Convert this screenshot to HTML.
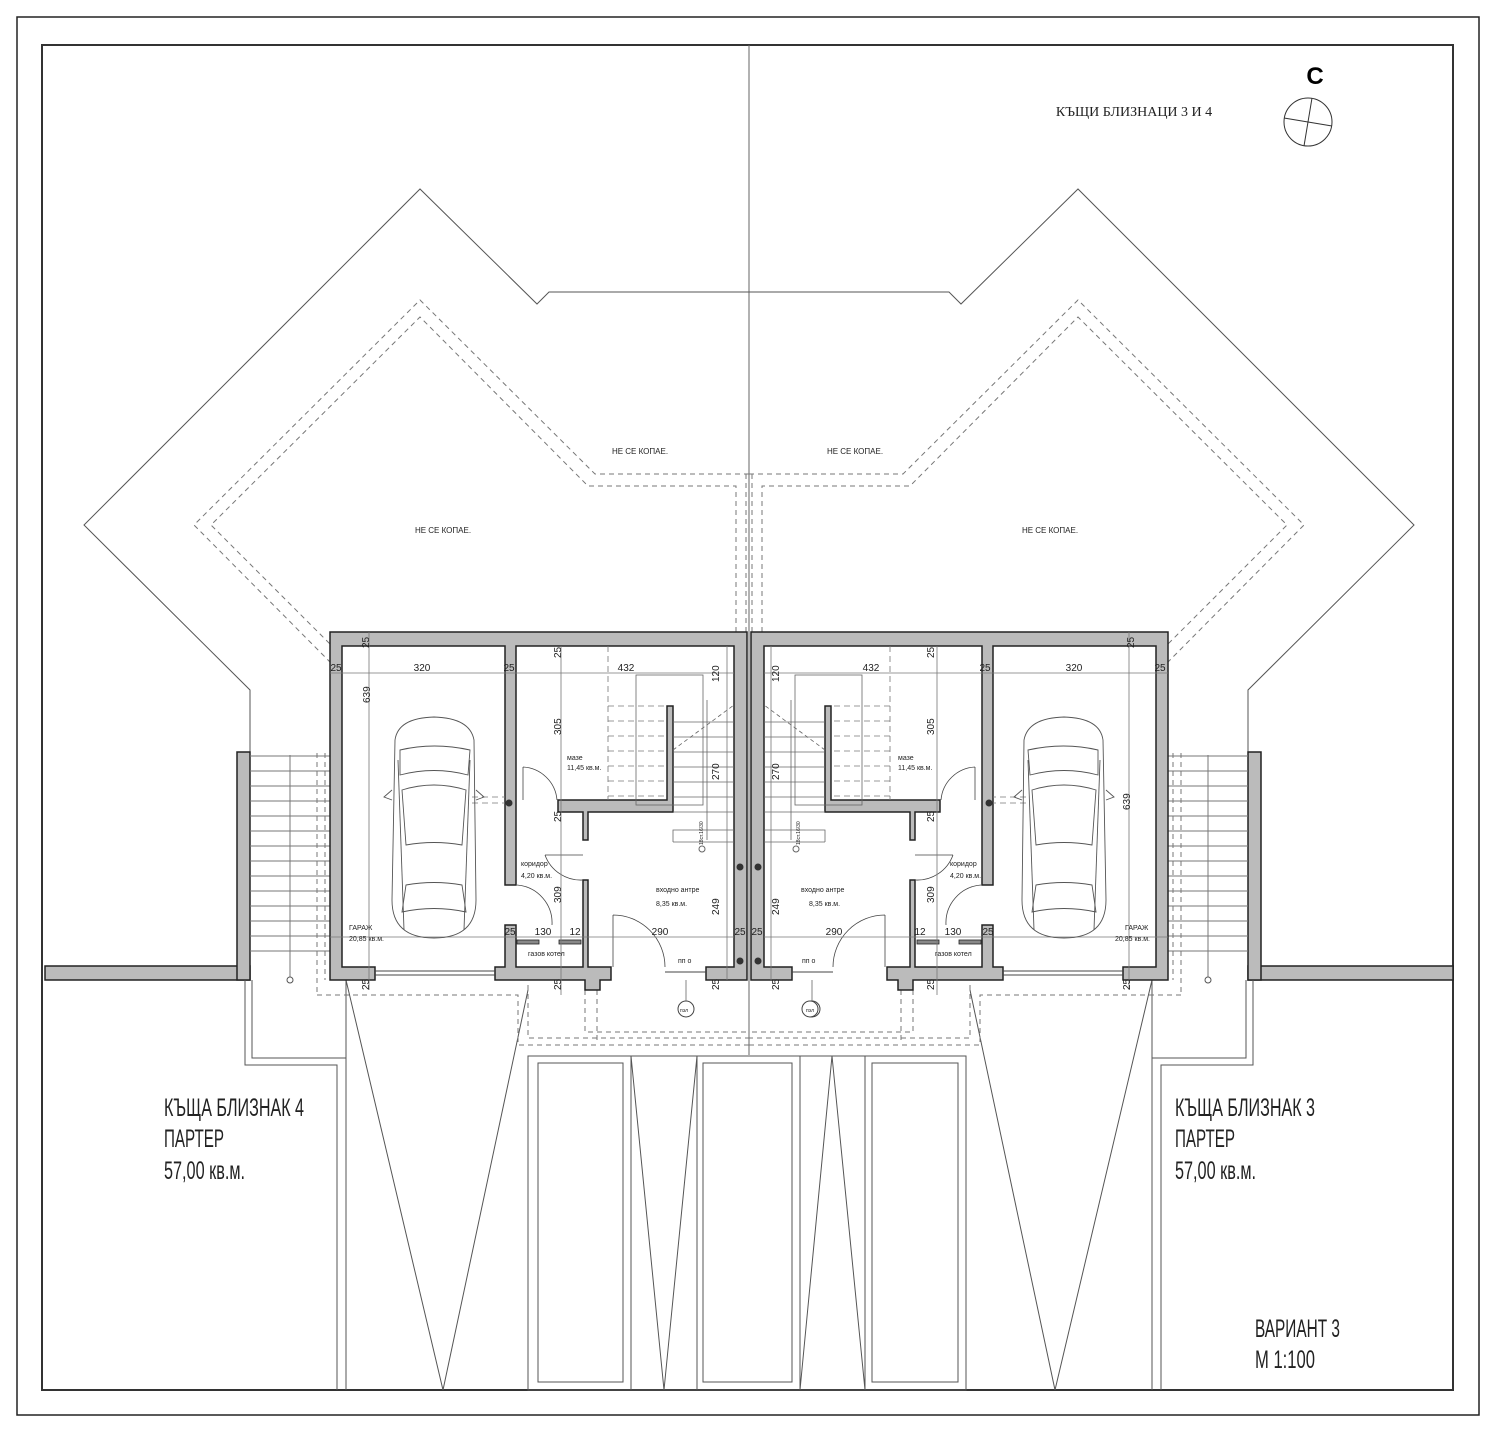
<!DOCTYPE html>
<html><head><meta charset="utf-8"><style>
html,body{margin:0;padding:0;background:#fff;}
svg{display:block;}
text{font-family:"Liberation Sans",sans-serif;fill:#222;}
</style></head><body>
<svg width="1502" height="1432" viewBox="0 0 1502 1432" xmlns="http://www.w3.org/2000/svg">
<rect x="0" y="0" width="1502" height="1432" fill="#fff"/>
<rect x="17" y="17" width="1462" height="1398" fill="none" stroke="#222" stroke-width="1.5"/>
<rect x="42" y="45" width="1411" height="1345" fill="none" stroke="#333" stroke-width="2"/>
<line x1="749" y1="45" x2="749" y2="1055" stroke="#666" stroke-width="1"/>

<defs>
<g id="half">
  <polyline points="749,292 549,292 537,304 420,189 84,525 250,690 250,752" fill="none" stroke="#555" stroke-width="1"/>
  <polyline points="749,474 595,474 420,300 194,525 330,662" fill="none" stroke="#777" stroke-width="1" stroke-dasharray="5,4"/>
  <polyline points="736,632 736,486 588,486 420,317 211,525 330,644" fill="none" stroke="#777" stroke-width="1" stroke-dasharray="5,4"/>
  <line x1="746" y1="474" x2="746" y2="632" stroke="#777" stroke-dasharray="5,4"/>
  <rect x="45" y="966" width="205" height="14" fill="#bbb" stroke="#222" stroke-width="1.5"/>
  <rect x="237" y="752" width="13" height="228" fill="#bbb" stroke="#222" stroke-width="1.5"/>
  <g stroke="#777" stroke-width="1">
    <line x1="250" y1="756" x2="330" y2="756"/><line x1="250" y1="771" x2="330" y2="771"/><line x1="250" y1="786" x2="330" y2="786"/>
    <line x1="250" y1="801" x2="330" y2="801"/><line x1="250" y1="816" x2="330" y2="816"/><line x1="250" y1="831" x2="330" y2="831"/>
    <line x1="250" y1="846" x2="330" y2="846"/><line x1="250" y1="861" x2="330" y2="861"/><line x1="250" y1="876" x2="330" y2="876"/>
    <line x1="250" y1="891" x2="330" y2="891"/><line x1="250" y1="906" x2="330" y2="906"/><line x1="250" y1="921" x2="330" y2="921"/>
    <line x1="250" y1="936" x2="330" y2="936"/><line x1="250" y1="951" x2="330" y2="951"/>
    <line x1="290" y1="755" x2="290" y2="978"/>
  </g>
  <circle cx="290" cy="980" r="3" fill="#fff" stroke="#555"/>
  <line x1="317" y1="753" x2="317" y2="995" stroke="#777" stroke-dasharray="5,4"/>
  <line x1="325" y1="753" x2="325" y2="980" stroke="#777" stroke-dasharray="5,4"/>
  <polyline points="245,980 245,1065 337,1065 337,1390" fill="none" stroke="#555"/>
  <polyline points="252,980 252,1058 346,1058" fill="none" stroke="#555"/>
  <line x1="346" y1="980" x2="346" y2="1390" stroke="#555"/>
  <polyline points="346,980 443,1390 528,990" fill="none" stroke="#555"/>
  <polyline points="317,995 518,995 518,1045 749,1045" fill="none" stroke="#777" stroke-dasharray="5,4"/>
  <polyline points="528,985 528,1038 749,1038" fill="none" stroke="#777" stroke-dasharray="5,4"/>
  <polyline points="585,990 585,1032 595,1032" fill="none" stroke="#777" stroke-dasharray="5,4"/>
  <polyline points="597,990 597,1040" fill="none" stroke="#777" stroke-dasharray="5,4"/>
  <line x1="597" y1="1032" x2="749" y2="1032" stroke="#777" stroke-dasharray="5,4"/>

  <g fill="#bbb" stroke="#222" stroke-width="1.5">
    <path d="M330,632 H747 V980 H706 V967 H734 V646 H516 V885 H505 V646 H342 V967 H375 V980 H330 Z"/>
    <path d="M495,967 H505 V925 H516 V967 H583 V880 H588 V967 H611 V980 H600 V990 H585 V980 H495 Z"/>
    <path d="M558,800 H667 V706 H673 V812 H588 V840 H583 V812 H558 Z"/>
  </g>
  <rect x="517" y="940" width="22" height="4" fill="#888" stroke="#222" stroke-width="0.8"/>
  <rect x="559" y="940" width="22" height="4" fill="#888" stroke="#222" stroke-width="0.8"/>
  <line x1="375" y1="971" x2="495" y2="971" stroke="#444"/><line x1="375" y1="975" x2="495" y2="975" stroke="#444"/>
  <line x1="665" y1="972" x2="706" y2="972" stroke="#444"/>
  <circle cx="509" cy="803" r="3.5" fill="#333"/>
  <circle cx="740" cy="867" r="3.5" fill="#333"/><circle cx="740" cy="961" r="3.5" fill="#333"/>
  <g fill="none" stroke="#444" stroke-width="0.8">
    <path d="M523,767 L523,800 M523,767 A36,36 0 0 1 557,800"/>
    <path d="M545,855 A38,38 0 0 0 583,880 M545,855 L583,855"/>
    <path d="M517,885 A38,38 0 0 1 552,925"/>
    <path d="M613,915 L613,967 M613,915 A52,52 0 0 1 665,967"/>
  </g>
  <g stroke="#666" fill="none" stroke-width="0.8">
    <rect x="636" y="675" width="67" height="130"/>
    <polyline points="673,842 673,830 734,830"/>
    <line x1="673" y1="842" x2="734" y2="842"/>
    <line x1="673" y1="722" x2="734" y2="722"/><line x1="673" y1="737" x2="734" y2="737"/><line x1="673" y1="752" x2="734" y2="752"/>
    <line x1="673" y1="767" x2="734" y2="767"/><line x1="673" y1="782" x2="734" y2="782"/><line x1="673" y1="797" x2="734" y2="797"/><line x1="673" y1="812" x2="734" y2="812"/>
    <line x1="707" y1="700" x2="707" y2="840"/>
    <line x1="673" y1="750" x2="734" y2="705" stroke-dasharray="4,3"/>
  </g>
  <g stroke="#777" fill="none" stroke-dasharray="6,4" stroke-width="0.8">
    <line x1="608" y1="646" x2="608" y2="800"/>
    <line x1="608" y1="706" x2="667" y2="706"/><line x1="608" y1="721" x2="667" y2="721"/><line x1="608" y1="736" x2="667" y2="736"/>
    <line x1="608" y1="751" x2="667" y2="751"/><line x1="608" y1="766" x2="667" y2="766"/><line x1="608" y1="781" x2="667" y2="781"/><line x1="608" y1="796" x2="667" y2="796"/>
    <line x1="472" y1="797" x2="505" y2="797"/><line x1="472" y1="803" x2="505" y2="803"/>
  </g>
  <g stroke="#777" stroke-width="0.8">
    <line x1="330" y1="673" x2="734" y2="673"/>
    <line x1="330" y1="937" x2="734" y2="937"/>
    <line x1="369" y1="632" x2="369" y2="990"/>
    <line x1="561" y1="646" x2="561" y2="995"/>
    <line x1="727" y1="646" x2="727" y2="980"/>
  </g>
  <circle cx="702" cy="849" r="3" fill="#fff" stroke="#666"/>
  <circle cx="686" cy="1009" r="8" fill="#fff" stroke="#444"/>
  <line x1="686" y1="980" x2="686" y2="1001" stroke="#666" stroke-width="0.8"/>
  <g fill="none" stroke="#555" stroke-width="0.9">
    <path d="M395,740 Q398,718 434,717 Q470,718 474,740 L476,900 Q476,938 434,938 Q392,938 392,900 Z"/>
    <path d="M400,750 Q434,742 470,750 L468,775 Q434,766 400,775 Z"/>
    <path d="M402,790 Q434,780 466,790 L462,845 Q434,840 406,845 Z"/>
    <path d="M406,885 Q434,880 462,885 L466,912 Q434,905 402,912 Z"/>
    <path d="M392,790 L384,797 L392,800"/><path d="M476,790 L484,797 L476,800"/>
    <line x1="398" y1="760" x2="404" y2="930"/><line x1="470" y1="760" x2="464" y2="930"/>
  </g>
</g>
</defs>

<use href="#half"/>
<g transform="translate(1498,0) scale(-1,1)"><use href="#half"/></g>

<g fill="none" stroke="#555" stroke-width="1">
  <rect x="528" y="1056" width="438" height="334"/>
  <line x1="631" y1="1056" x2="631" y2="1390"/><line x1="697" y1="1056" x2="697" y2="1390"/>
  <line x1="800" y1="1056" x2="800" y2="1390"/><line x1="865" y1="1056" x2="865" y2="1390"/>
  <rect x="538" y="1063" width="85" height="319"/>
  <rect x="703" y="1063" width="89" height="319"/>
  <rect x="872" y="1063" width="86" height="319"/>
  <polyline points="631,1056 664,1390 697,1056"/>
  <polyline points="800,1390 832,1056 865,1390"/>
</g>

<circle cx="1308" cy="122" r="24" fill="none" stroke="#333" stroke-width="1"/>
<line x1="1312" y1="98" x2="1304" y2="146" stroke="#333"/>
<line x1="1284" y1="118" x2="1332" y2="126" stroke="#333"/>
<text x="1315" y="84" font-size="24" font-weight="bold" text-anchor="middle" style="fill:#000">С</text>
<text x="1134" y="116" font-size="14" text-anchor="middle" style="font-family:'Liberation Serif',serif">КЪЩИ БЛИЗНАЦИ 3 И 4</text>

<g font-size="8" text-anchor="middle">
  <text x="640" y="454">НЕ СЕ КОПАЕ.</text><text x="855" y="454">НЕ СЕ КОПАЕ.</text>
  <text x="443" y="533">НЕ СЕ КОПАЕ.</text><text x="1050" y="533">НЕ СЕ КОПАЕ.</text>
</g>
<g font-size="10" text-anchor="middle" style="fill:#333">
  <text x="422" y="671">320</text><text x="626" y="671">432</text><text x="871" y="671">432</text><text x="1074" y="671">320</text>
  <text x="336" y="671">25</text><text x="509" y="671">25</text><text x="985" y="671">25</text><text x="1160" y="671">25</text>
  <text x="543" y="935">130</text><text x="575" y="935">12</text><text x="660" y="935">290</text>
  <text x="834" y="935">290</text><text x="920" y="935">12</text><text x="953" y="935">130</text>
  <text x="740" y="935">25</text><text x="757" y="935">25</text><text x="510" y="935">25</text><text x="988" y="935">25</text>
</g>
<g font-size="10" style="fill:#333">
  <text transform="translate(370,703) rotate(-90)">639</text>
  <text transform="translate(1130,810) rotate(-90)">639</text>
  <text transform="translate(561,735) rotate(-90)">305</text>
  <text transform="translate(934,735) rotate(-90)">305</text>
  <text transform="translate(561,903) rotate(-90)">309</text>
  <text transform="translate(934,903) rotate(-90)">309</text>
  <text transform="translate(719,915) rotate(-90)">249</text>
  <text transform="translate(779,915) rotate(-90)">249</text>
  <text transform="translate(719,780) rotate(-90)">270</text>
  <text transform="translate(779,780) rotate(-90)">270</text>
  <text transform="translate(719,682) rotate(-90)">120</text>
  <text transform="translate(779,682) rotate(-90)">120</text>
  <text transform="translate(369,648) rotate(-90)">25</text>
  <text transform="translate(561,658) rotate(-90)">25</text>
  <text transform="translate(561,822) rotate(-90)">25</text>
  <text transform="translate(561,990) rotate(-90)">25</text>
  <text transform="translate(719,990) rotate(-90)">25</text>
  <text transform="translate(779,990) rotate(-90)">25</text>
  <text transform="translate(934,990) rotate(-90)">25</text>
  <text transform="translate(934,822) rotate(-90)">25</text>
  <text transform="translate(934,658) rotate(-90)">25</text>
  <text transform="translate(1134,648) rotate(-90)">25</text>
  <text transform="translate(369,990) rotate(-90)">25</text>
  <text transform="translate(1130,990) rotate(-90)">25</text>
</g>
<g font-size="7" style="fill:#333">
  <text x="567" y="760">мазе</text><text x="567" y="770">11,45 кв.м.</text>
  <text x="898" y="760">мазе</text><text x="898" y="770">11,45 кв.м.</text>
  <text x="521" y="866">коридор</text><text x="521" y="878">4,20 кв.м.</text>
  <text x="950" y="866">коридор</text><text x="950" y="878">4,20 кв.м.</text>
  <text x="656" y="892">входно антре</text><text x="656" y="906">8,35 кв.м.</text>
  <text x="801" y="892">входно антре</text><text x="809" y="906">8,35 кв.м.</text>
  <text x="349" y="930">ГАРАЖ</text><text x="349" y="941">20,85 кв.м.</text>
  <text x="1125" y="930">ГАРАЖ</text><text x="1115" y="941">20,85 кв.м.</text>
  <text x="528" y="956">газов котел</text><text x="935" y="956">газов котел</text>
  <text x="678" y="963">пп о</text><text x="802" y="963">пп о</text>
  <text x="680" y="1012" font-size="5">пэл</text>
</g>
<g font-size="5" style="fill:#333">
  <text transform="translate(703,845) rotate(-90)">18ст.16/30</text>
  <text transform="translate(800,845) rotate(-90)">18ст.16/30</text>
</g>
<circle cx="810" cy="1009" r="8" fill="#fff" stroke="#444"/>
<text x="810" y="1012" font-size="5" text-anchor="middle">пэл</text>

<g font-size="25" style="fill:#222">
  <text x="164" y="1116" textLength="140" lengthAdjust="spacingAndGlyphs">КЪЩА БЛИЗНАК 4</text>
  <text x="164" y="1147" textLength="60" lengthAdjust="spacingAndGlyphs">ПАРТЕР</text>
  <text x="164" y="1179" textLength="81" lengthAdjust="spacingAndGlyphs">57,00 кв.м.</text>
  <text x="1175" y="1116" textLength="140" lengthAdjust="spacingAndGlyphs">КЪЩА БЛИЗНАК 3</text>
  <text x="1175" y="1147" textLength="60" lengthAdjust="spacingAndGlyphs">ПАРТЕР</text>
  <text x="1175" y="1179" textLength="81" lengthAdjust="spacingAndGlyphs">57,00 кв.м.</text>
  <text x="1255" y="1337" textLength="85" lengthAdjust="spacingAndGlyphs">ВАРИАНТ 3</text>
  <text x="1255" y="1368" textLength="60" lengthAdjust="spacingAndGlyphs">М 1:100</text>
</g>
</svg>
</body></html>
